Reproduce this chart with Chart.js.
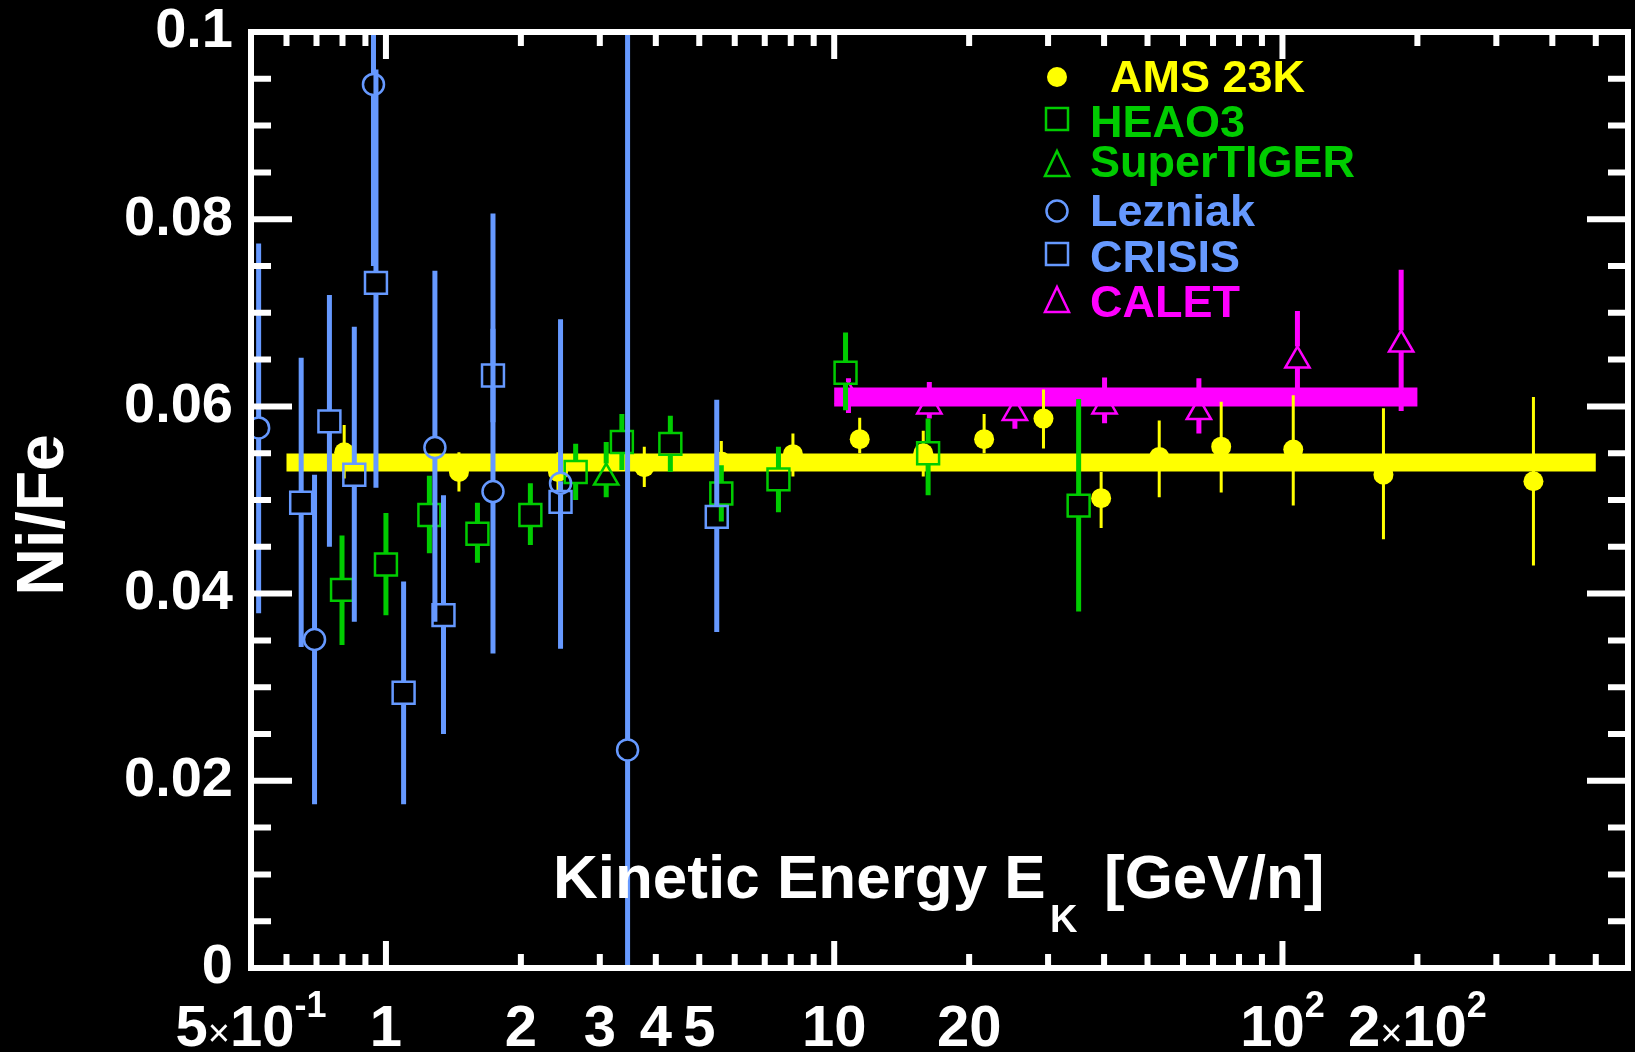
<!DOCTYPE html>
<html>
<head>
<meta charset="utf-8">
<script src="https://cdn.jsdelivr.net/npm/chart.js@4.4.1/dist/chart.umd.min.js"></script>
<style>
  html, body { margin: 0; padding: 0; background: #000; }
  canvas { display: block; }
</style>
</head>
<body>
<canvas id="niFeChart" width="1635" height="1052"></canvas>
<script>
// Ni/Fe ratio vs kinetic energy per nucleon

// axis ticks
const xTickValues = [0.5, 1, 2, 3, 4, 5, 10, 20, 100, 200];
const xTickLabels = ['5×10^-1', '1', '2', '3', '4', '5', '10', '20', '10^2', '2×10^2'];
const xMajorTicks = [1, 10, 100];
const xMinorTicks = [0.6, 0.7, 0.8, 0.9, 2, 3, 4, 5, 6, 7, 8, 9, 20, 30, 40, 50, 60, 70, 80, 90, 200, 300, 400, 500];
const yMajorTicks = [0, 0.02, 0.04, 0.06, 0.08, 0.1];
const yMinorTicks = [0.005, 0.01, 0.015, 0.025, 0.03, 0.035, 0.045, 0.05, 0.055, 0.065, 0.07, 0.075, 0.085, 0.09, 0.095];

// AMS 23K
const amsE  = [0.807, 1.455, 2.42, 3.77, 5.6, 8.09, 11.4, 15.8, 21.6, 29.3, 39.4, 53.1, 73, 105.7, 168, 363];
const amsR  = [0.0551, 0.0530, 0.0530, 0.0535, 0.0541, 0.0549, 0.0565, 0.0550, 0.0565, 0.0587, 0.0502, 0.0546, 0.0557, 0.0554, 0.0527, 0.0520];
const amsLo = [0.0523, 0.0509, 0.0509, 0.0514, 0.0519, 0.0525, 0.0550, 0.0525, 0.0550, 0.0555, 0.0470, 0.0503, 0.0508, 0.0494, 0.0458, 0.0430];
const amsHi = [0.0580, 0.0551, 0.0551, 0.0557, 0.0563, 0.0571, 0.0588, 0.0574, 0.0592, 0.0618, 0.0530, 0.0585, 0.0605, 0.0612, 0.0598, 0.0610];

// HEAO3
const heaoE  = [0.798, 1.0, 1.25, 1.6, 2.10, 2.65, 3.36, 4.31, 5.6, 7.51, 10.6, 16.2, 35.1];
const heaoR  = [0.0404, 0.0431, 0.0484, 0.0464, 0.0484, 0.0530, 0.0562, 0.0560, 0.0507, 0.0522, 0.0636, 0.0550, 0.0494];
const heaoLo = [0.0345, 0.0377, 0.0443, 0.0433, 0.0452, 0.0500, 0.0532, 0.0530, 0.0477, 0.0487, 0.0596, 0.0505, 0.0381];
const heaoHi = [0.0462, 0.0486, 0.0526, 0.0497, 0.0518, 0.0560, 0.0592, 0.0590, 0.0537, 0.0557, 0.0679, 0.0587, 0.0608];

// SuperTIGER
const tigerE  = [3.10];
const tigerR  = [0.0524];
const tigerLo = [0.0503];
const tigerHi = [0.0562];

// Lezniak
const lezE  = [0.52, 0.693, 0.938, 1.286, 1.733, 2.452, 3.46];
const lezR  = [0.0577, 0.0351, 0.0944, 0.0556, 0.0509, 0.0518, 0.0233];
const lezLo = [0.0379, 0.0175, 0.0750, 0.0370, 0.0336, 0.0341, -0.010];
const lezHi = [0.0774, 0.0527, 0.1100, 0.0745, 0.0806, 0.0693, 0.110];

// CRISIS
const crisE  = [0.647, 0.748, 0.85, 0.95, 1.095, 1.344, 1.733, 2.452, 5.47];
const crisR  = [0.0497, 0.0584, 0.0527, 0.0732, 0.0294, 0.0377, 0.0633, 0.0498, 0.0482];
const crisLo = [0.0343, 0.0450, 0.0370, 0.0513, 0.0175, 0.0250, 0.0583, 0.0480, 0.0359];
const crisHi = [0.0652, 0.0719, 0.0685, 0.0960, 0.0413, 0.0505, 0.0683, 0.0520, 0.0607];

// CALET
const caletE  = [10.76, 16.3, 25.3, 40.1, 65.1, 108, 184];
const caletR  = [0.0611, 0.0600, 0.0593, 0.0600, 0.0594, 0.0649, 0.0666];
const caletLo = [0.0593, 0.0587, 0.0576, 0.0582, 0.0571, 0.0615, 0.0595];
const caletHi = [0.0630, 0.0626, 0.0610, 0.0631, 0.0630, 0.0702, 0.0746];

// constant fits
const amsFitE = [0.6, 500];
const amsFitR = [0.054, 0.054];
const caletFitE = [10, 200];
const caletFitR = [0.061, 0.061];

const legendNames = ['AMS 23K', 'HEAO3', 'SuperTIGER', 'Lezniak', 'CRISIS', 'CALET'];

const YELLOW = '#ffff00';
const GREEN = '#00cc00';
const BLUE = '#6699ff';
const MAGENTA = '#ff00ff';
const FONT = '"Liberation Sans", Arial, sans-serif';

function pts(xs, ys) {
    return xs.map((x, i) => ({ x: x, y: ys[i] }));
}

// vertical error bars, drawn just under each dataset's markers
const errorBars = {
    id: 'errorBars',
    beforeDatasetDraw(chart, args) {
        const ds = chart.data.datasets[args.index];
        if (!ds.errLo) return;
        const ctx = chart.ctx;
        const xs = chart.scales.x, ys = chart.scales.y;
        const a = chart.chartArea;
        ctx.save();
        ctx.beginPath();
        ctx.rect(a.left, a.top, a.right - a.left, a.bottom - a.top);
        ctx.clip();
        ctx.strokeStyle = ds.borderColor;
        ctx.lineWidth = ds.errWidth;
        ctx.lineCap = 'butt';
        ds.data.forEach((p, i) => {
            const x = xs.getPixelForValue(p.x);
            const yc = ys.getPixelForValue(p.y);
            const yHi = ys.getPixelForValue(ds.errHi[i]);
            const yLo = ys.getPixelForValue(ds.errLo[i]);
            ctx.beginPath();
            if (yHi < yc - ds.gapUp) { ctx.moveTo(x, yHi); ctx.lineTo(x, yc - ds.gapUp); }
            if (yLo > yc + ds.gapDown) { ctx.moveTo(x, yc + ds.gapDown); ctx.lineTo(x, yLo); }
            ctx.stroke();
        });
        ctx.restore();
    }
};

function drawMarker(ctx, shape, x, y, color) {
    ctx.save();
    ctx.strokeStyle = color;
    ctx.fillStyle = color;
    ctx.lineWidth = 2.5;
    ctx.beginPath();
    if (shape === 'dot') {
        ctx.arc(x, y, 10, 0, Math.PI * 2);
        ctx.fill();
    } else if (shape === 'circle') {
        ctx.arc(x, y, 10.5, 0, Math.PI * 2);
        ctx.stroke();
    } else if (shape === 'square') {
        ctx.rect(x - 11, y - 11, 22, 22);
        ctx.stroke();
    } else {
        ctx.moveTo(x, y - 13);
        ctx.lineTo(x + 12, y + 12);
        ctx.lineTo(x - 12, y + 12);
        ctx.closePath();
        ctx.stroke();
    }
    ctx.restore();
}

function drawTickLabel(ctx, text, cx, baseline) {
    const parts = text.split('^');
    const pieces = [];
    parts[0].split(/(×)/).forEach(t => {
        if (!t) return;
        pieces.push({ t: t, font: t === '×' ? '38px ' + FONT : 'bold 58px ' + FONT, dy: 0 });
    });
    if (parts[1]) pieces.push({ t: parts[1], font: 'bold 36px ' + FONT, dy: -29 });
    let total = 0;
    pieces.forEach(p => { ctx.font = p.font; p.w = ctx.measureText(p.t).width; total += p.w; });
    let x = cx - total / 2;
    pieces.forEach(p => { ctx.font = p.font; ctx.fillText(p.t, x, baseline + p.dy); x += p.w; });
}

const frameAndText = {
    id: 'frameAndText',
    beforeDraw(chart) {
        const ctx = chart.ctx;
        ctx.save();
        ctx.fillStyle = '#000';
        ctx.fillRect(0, 0, chart.width, chart.height);
        ctx.restore();
    },
    afterDraw(chart) {
        const ctx = chart.ctx;
        const xs = chart.scales.x, ys = chart.scales.y;
        const { left, right, top, bottom } = chart.chartArea;
        ctx.save();

        // frame
        ctx.strokeStyle = '#fff';
        ctx.lineJoin = 'miter';
        ctx.lineWidth = 6;
        ctx.strokeRect(left, top, right - left, bottom - top);

        // ticks on all four sides
        ctx.lineWidth = 6;
        ctx.beginPath();
        yMajorTicks.forEach(v => {
            const y = ys.getPixelForValue(v);
            ctx.moveTo(left, y); ctx.lineTo(left + 41, y);
            ctx.moveTo(right, y); ctx.lineTo(right - 41, y);
        });
        yMinorTicks.forEach(v => {
            const y = ys.getPixelForValue(v);
            ctx.moveTo(left, y); ctx.lineTo(left + 20, y);
            ctx.moveTo(right, y); ctx.lineTo(right - 20, y);
        });
        xMajorTicks.forEach(v => {
            const x = xs.getPixelForValue(v);
            ctx.moveTo(x, bottom); ctx.lineTo(x, bottom - 27);
            ctx.moveTo(x, top); ctx.lineTo(x, top + 27);
        });
        xMinorTicks.forEach(v => {
            const x = xs.getPixelForValue(v);
            ctx.moveTo(x, bottom); ctx.lineTo(x, bottom - 14);
            ctx.moveTo(x, top); ctx.lineTo(x, top + 14);
        });
        ctx.stroke();

        // x tick labels
        ctx.fillStyle = '#fff';
        ctx.textAlign = 'left';
        ctx.textBaseline = 'alphabetic';
        xTickValues.forEach((v, i) => {
            drawTickLabel(ctx, xTickLabels[i], xs.getPixelForValue(v), 1046);
        });

        // x title, inside the plot
        ctx.font = 'bold 62px ' + FONT;
        ctx.fillText('Kinetic Energy E', 553, 898);
        ctx.font = 'bold 38px ' + FONT;
        ctx.fillText('K', 1050, 932);
        ctx.font = 'bold 62px ' + FONT;
        ctx.fillText('[GeV/n]', 1104, 898);

        // y title
        ctx.save();
        ctx.translate(40, 515);
        ctx.rotate(-Math.PI / 2);
        ctx.textAlign = 'center';
        ctx.font = 'bold 66px ' + FONT;
        ctx.fillText('Ni/Fe', 0, 23);
        ctx.restore();

        // legend
        const shapes = ['dot', 'square', 'triangle', 'circle', 'square', 'triangle'];
        const colors = [YELLOW, GREEN, GREEN, BLUE, BLUE, MAGENTA];
        const markerY = [77, 119, 164, 211, 254, 300];
        const textY = [92, 137, 177, 226, 272, 317];
        ctx.font = 'bold 45px ' + FONT;
        legendNames.forEach((name, i) => {
            drawMarker(ctx, shapes[i], 1057, markerY[i], colors[i]);
            ctx.fillStyle = colors[i];
            ctx.fillText(name, i === 0 ? 1110 : 1090, textY[i]);
        });
        ctx.restore();
    }
};

const ctx = document.getElementById('niFeChart');
new Chart(ctx, {
    type: 'scatter',
    data: {
        datasets: [
            {
                label: 'CRISIS',
                data: pts(crisE, crisR),
                errLo: crisLo, errHi: crisHi, errWidth: 5, gapUp: 11, gapDown: 11,
                pointStyle: 'rect', pointRadius: 15.5, borderWidth: 2.5,
                borderColor: BLUE, backgroundColor: 'rgba(0,0,0,0)'
            },
            {
                label: 'Lezniak',
                data: pts(lezE, lezR),
                errLo: lezLo, errHi: lezHi, errWidth: 5, gapUp: 11, gapDown: 11,
                pointStyle: 'circle', pointRadius: 10.5, borderWidth: 2.5,
                borderColor: BLUE, backgroundColor: 'rgba(0,0,0,0)'
            },
            {
                label: 'SuperTIGER',
                data: pts(tigerE, tigerR),
                errLo: tigerLo, errHi: tigerHi, errWidth: 5, gapUp: 14, gapDown: 7,
                pointStyle: 'triangle', pointRadius: 14, borderWidth: 2.5,
                borderColor: GREEN, backgroundColor: 'rgba(0,0,0,0)'
            },
            {
                label: 'HEAO3',
                data: pts(heaoE, heaoR),
                errLo: heaoLo, errHi: heaoHi, errWidth: 5, gapUp: 11, gapDown: 11,
                pointStyle: 'rect', pointRadius: 15.5, borderWidth: 2.5,
                borderColor: GREEN, backgroundColor: 'rgba(0,0,0,0)'
            },
            {
                label: 'AMS 23K',
                data: pts(amsE, amsR),
                errLo: amsLo, errHi: amsHi, errWidth: 3, gapUp: 0, gapDown: 0,
                pointStyle: 'circle', pointRadius: 10, borderWidth: 0,
                borderColor: YELLOW, backgroundColor: YELLOW
            },
            {
                type: 'line',
                label: 'AMS fit',
                data: pts(amsFitE, amsFitR),
                borderColor: YELLOW, borderWidth: 18, pointRadius: 0, fill: false
            },
            {
                type: 'line',
                label: 'CALET fit',
                data: pts(caletFitE, caletFitR),
                borderColor: MAGENTA, borderWidth: 19, pointRadius: 0, fill: false
            },
            {
                label: 'CALET',
                data: pts(caletE, caletR),
                errLo: caletLo, errHi: caletHi, errWidth: 5, gapUp: 14, gapDown: 7,
                pointStyle: 'triangle', pointRadius: 14, borderWidth: 2.5,
                borderColor: MAGENTA, backgroundColor: 'rgba(0,0,0,0)'
            }
        ]
    },
    options: {
        responsive: false,
        animation: false,
        devicePixelRatio: 1,
        events: [],
        layout: { autoPadding: false, padding: { top: 32, right: 7, left: 0, bottom: 0 } },
        plugins: {
            legend: { display: false },
            tooltip: { enabled: false }
        },
        scales: {
            x: {
                type: 'logarithmic',
                min: 0.5,
                max: 590,
                grid: { display: false, drawTicks: false },
                border: { display: false },
                ticks: { display: false },
                afterFit(scale) {
                    scale.height = 84;
                    scale.paddingLeft = 0;
                    scale.paddingRight = 0;
                }
            },
            y: {
                type: 'linear',
                min: 0,
                max: 0.1,
                grid: { display: false, drawTicks: false },
                border: { display: false },
                afterBuildTicks(scale) { scale.ticks = yMajorTicks.map(v => ({ value: v })); },
                ticks: {
                    color: '#fff',
                    padding: 18,
                    font: { family: FONT, size: 56, weight: 'bold' },
                    callback: v => String(Number(v.toFixed(2)))
                },
                afterFit(scale) {
                    scale.width = 251;
                    scale.paddingTop = 0;
                    scale.paddingBottom = 0;
                }
            }
        }
    },
    plugins: [errorBars, frameAndText]
});
</script>
</body>
</html>
